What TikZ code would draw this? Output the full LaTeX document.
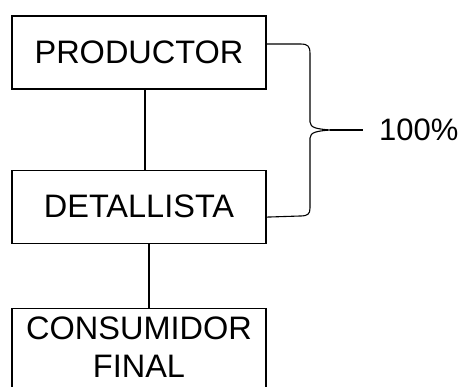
\documentclass[tikz,border=0pt]{standalone}
\usepackage{fontspec}
\setmainfont{Liberation Sans}
\usetikzlibrary{positioning}

\begin{document}
\begin{tikzpicture}[
  x=1pt, y=-1pt,
  levelbox/.style={draw, line width=1.1pt, minimum width=254pt, minimum height=73pt,
               inner sep=0pt, align=center, font=\fontsize{32.5}{38}\selectfont},
  link/.style={line width=1.1pt},
  brace/.style={line width=1.1pt, line join=round}
]
  \useasboundingbox (0,0) rectangle (466,386);
  \clip (0,0) rectangle (466,386);

  \node[levelbox] (prod) at (139,52.5) {PRODUCTOR};
  \node[levelbox, below=80pt of prod] (det) {DETALLISTA};
  \node[levelbox, below=64pt of det, inner ysep=9pt, text depth=16pt] (cons) {CONSUMIDOR\\FINAL};

  \draw[link] ([xshift=6pt]prod.south) -- ([xshift=6pt]det.north);
  \draw[link] ([xshift=10pt]det.south) -- ([xshift=10pt]cons.north);

  % curly bracket grouping the first two levels
  \coordinate (tip) at (330,130);
  \coordinate (stemend) at (363,130);
  \draw[brace] ([yshift=8.5pt]prod.east) -- (300,44)
    .. controls (308,44) and (310,46) .. (310,54) -- (310,122)
    .. controls (310,128) and (318,129) .. (tip)
    .. controls (318,131) and (310,132) .. (310,138) -- (310,208)
    .. controls (310,214) and (308,216) .. (300,216) -- ([yshift=-10.5pt]det.east);
  \draw[link] (tip) -- (stemend);
  \node[right=16pt of stemend, inner sep=0pt, font=\fontsize{31}{37}\selectfont] (pct) {100\%};
\end{tikzpicture}
\end{document}
